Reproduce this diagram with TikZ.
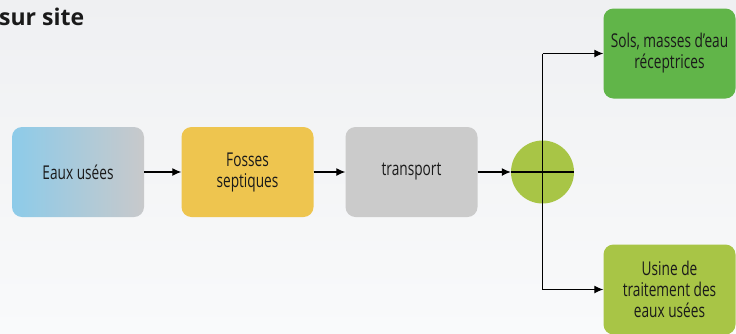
\documentclass[tikz,border=0pt]{standalone}
\usepackage{fontspec}
\setmainfont{Open Sans}
\newfontfamily\narrowfont{Open Sans}[FakeStretch=0.72]
\usepackage{xcolor}
\usetikzlibrary{arrows.meta,positioning,calc}

\definecolor{bgtop}{HTML}{EFF0F2}
\definecolor{bgbot}{HTML}{F9FAFB}
\definecolor{waterblue}{HTML}{8DCBE9}
\definecolor{watergray}{HTML}{C8C9CB}
\definecolor{tankyellow}{HTML}{EEC54F}
\definecolor{truckgray}{HTML}{CBCBCB}
\definecolor{hubgreen}{HTML}{A8C546}
\definecolor{soilgreen}{HTML}{61B549}
\definecolor{inktext}{HTML}{1A1A1A}

\begin{document}
\begin{tikzpicture}[
    x=1pt, y=-1pt,
    box/.style={rounded corners=10pt, align=center, minimum width=132pt, minimum height=90pt,
                inner sep=2pt, text=inktext, font=\narrowfont\fontsize{19}{21}\selectfont},
    arr/.style={-{Latex[length=9pt, width=8pt]}, line width=1.1pt},
    wire/.style={line width=1.1pt}
  ]
    %% ---- Background ----
    \shade[top color=bgtop, bottom color=bgbot] (0,0) rectangle (736,333);
    \useasboundingbox (0,0) rectangle (736,333);

    \node[anchor=base west, inner sep=0pt, font=\bfseries\fontsize{23}{26}\selectfont, text=inktext]
      (title) at (-1,25) {sur site};

    %% ---- Main chain ----
    \node[box, left color=waterblue, right color=watergray] (eaux) at (78,172) {Eaux usées};
    \node[box, fill=tankyellow] (fosses) at (247.5,172) {Fosses\\septiques};
    \node[box, fill=truckgray] (transport) at (411.5,172) {transport};
    \node[circle, fill=hubgreen, minimum size=63pt, inner sep=0pt] (hub) at (542.5,172) {};

    \draw[arr] (eaux) -- (fosses);
    \draw[arr] (fosses) -- (transport);
    \draw[arr] (transport) -- (hub);
    \draw[wire] (hub.west) -- (hub.east);

    %% ---- Destinations ----
    \node[box, fill=soilgreen] (sols) at (669.5,53.5) {Sols, masses d’eau\\réceptrices};
    \node[box, fill=hubgreen] (usine) at (669.5,289.5) {Usine de\\traitement des\\eaux usées};

    % split line through the hub, then out to both ends
    \draw[wire] (hub |- sols.west) -- (hub |- usine.west);
    \draw[arr] (hub |- sols.west) -- (sols);
    \draw[arr] (hub |- usine.west) -- (usine);
  \end{tikzpicture}
\end{document}
